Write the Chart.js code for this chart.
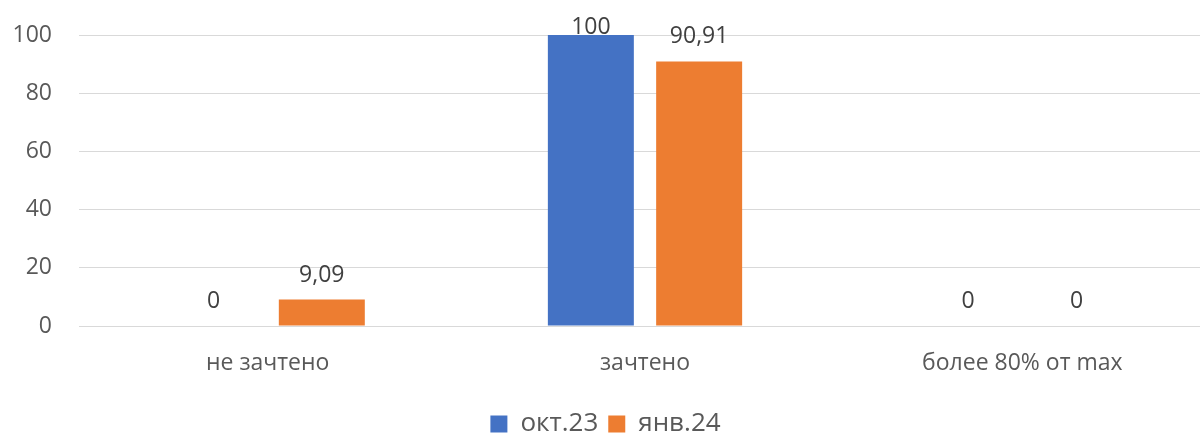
<!DOCTYPE html>
<html>
<head>
<meta charset="utf-8">
<script src="https://cdn.jsdelivr.net/npm/chart.js@4.4.0/dist/chart.umd.min.js"></script>
<style>
  html, body { margin: 0; padding: 0; background: #fff; overflow: hidden; }
  #wrap { width: 1245px; height: 447px; }
</style>
</head>
<body>
<div id="wrap"><canvas id="bar-chart"></canvas></div>
<script>
const categories = ["не зачтено", "зачтено", "более 80% от max"];
const octValues = [0, 100, 0];
const janValues = [9.09, 90.91, 0];
const seriesNames = ["окт.23", "янв.24"];
const yTicks = [0, 20, 40, 60, 80, 100];

const fontFamily = "'Open Sans', 'Noto Sans', sans-serif";

// draws the value above every bar, with a comma as decimal mark
const valueLabels = {
  id: "valueLabels",
  afterDatasetsDraw(chart) {
    const ctx = chart.ctx;
    ctx.save();
    ctx.font = "23px " + fontFamily;
    ctx.fillStyle = "#404040";
    ctx.textAlign = "center";
    ctx.textBaseline = "alphabetic";
    chart.data.datasets.forEach((ds, i) => {
      chart.getDatasetMeta(i).data.forEach((bar, j) => {
        const text = String(ds.data[j]).replace(".", ",");
        const y = Math.max(bar.y - 18, 34);
        ctx.fillText(text, bar.x, y);
      });
    });
    ctx.restore();
  },
};

const chartCanvas = document.getElementById("bar-chart");

new Chart(chartCanvas, {
  type: "bar",
  data: {
    labels: categories,
    datasets: [
      {
        label: seriesNames[0],
        data: octValues,
        backgroundColor: "#4472C4",
        categoryPercentage: 0.574,
        barPercentage: 0.794,
      },
      {
        label: seriesNames[1],
        data: janValues,
        backgroundColor: "#ED7D31",
        categoryPercentage: 0.574,
        barPercentage: 0.794,
      },
    ],
  },
  options: {
    responsive: true,
    maintainAspectRatio: false,
    animation: false,
    layout: { padding: { top: 35, right: 34, left: 0, bottom: 0 } },
    plugins: {
      tooltip: { enabled: false },
      legend: {
        position: "bottom",
        labels: {
          boxWidth: 17,
          boxHeight: 17,
          padding: 10,
          color: "#595959",
          font: { family: fontFamily, size: 26 },
        },
      },
    },
    scales: {
      x: {
        grid: { display: false },
        border: { display: false },
        ticks: {
          color: "#595959",
          padding: 16,
          font: { family: fontFamily, size: 23 },
        },
        afterFit(scale) {
          scale.height = 75;
        },
      },
      y: {
        min: 0,
        max: 100,
        afterBuildTicks(scale) {
          scale.ticks = yTicks.map((v) => ({ value: v }));
        },
        grid: { color: "#D9D9D9", lineWidth: 1, drawTicks: false },
        border: { display: false },
        ticks: {
          color: "#595959",
          padding: 27,
          font: { family: fontFamily, size: 23 },
        },
        afterFit(scale) {
          scale.width = 79;
          scale.paddingTop = 0;
          scale.paddingBottom = 0;
        },
      },
    },
  },
  plugins: [valueLabels],
});
</script>
</body>
</html>
